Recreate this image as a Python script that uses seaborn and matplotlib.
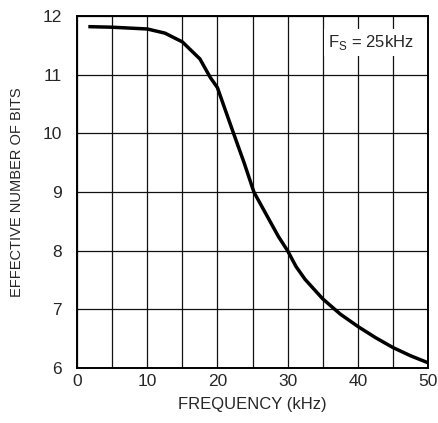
import numpy as np
import pandas as pd
import matplotlib
matplotlib.use("Agg")
import matplotlib.pyplot as plt
import seaborn as sns

# values
freq_khz = [1.6, 5, 10, 12.5, 15, 17.5, 19, 20, 21, 22.3, 23.8, 25.2, 26.3, 27.5,
            28.7, 30, 31.2, 32.5, 35, 37.5, 40, 42.5, 45, 47.5, 50]
enob = [11.82, 11.81, 11.78, 11.71, 11.56, 11.27, 10.95, 10.78, 10.44, 10.0, 9.5, 9.0, 8.76, 8.5,
        8.24, 8.0, 7.73, 7.51, 7.18, 6.92, 6.71, 6.52, 6.35, 6.21, 6.09]

x_ticks = [0, 10, 20, 30, 40, 50]
y_ticks = [6, 7, 8, 9, 10, 11, 12]

df = pd.DataFrame({"Frequency": freq_khz, "ENOB": enob})

sns.set_style("white")
plt.rcParams['font.family'] = ['Liberation Sans', 'DejaVu Sans']

fig = plt.figure(figsize=(4.38, 4.23), dpi=100)
ax = fig.add_axes([0.176, 0.13, 0.801, 0.832])

sns.lineplot(data=df, x="Frequency", y="ENOB", ax=ax, color="black", linewidth=2.5,
             solid_joinstyle="round", solid_capstyle="butt")

ax.set_xlim(0, 50)
ax.set_ylim(6, 12)
ax.set_xticks(x_ticks)
ax.set_xticks(np.arange(0, 51, 5), minor=True)
ax.set_yticks(y_ticks)
ax.grid(which="both", color="#111111", linewidth=0.9)
ax.tick_params(which="both", length=0, labelsize=12.5)
ax.tick_params(axis="x", pad=4)
ax.tick_params(axis="y", pad=11)
for s in ax.spines.values():
    s.set_color("black")
    s.set_linewidth(1.4)

ax.set_xlabel("FREQUENCY (kHz)", fontsize=12, labelpad=6)
ax.set_ylabel("EFFECTIVE NUMBER OF BITS", fontsize=10.5, labelpad=13)

ax.text(41.9, 11.55, r"F$_\mathregular{S}$ = 25kHz", fontsize=12, ha="center", va="center",
        bbox=dict(facecolor="white", edgecolor="none", pad=3))

fig.savefig("out.png", dpi=100)
